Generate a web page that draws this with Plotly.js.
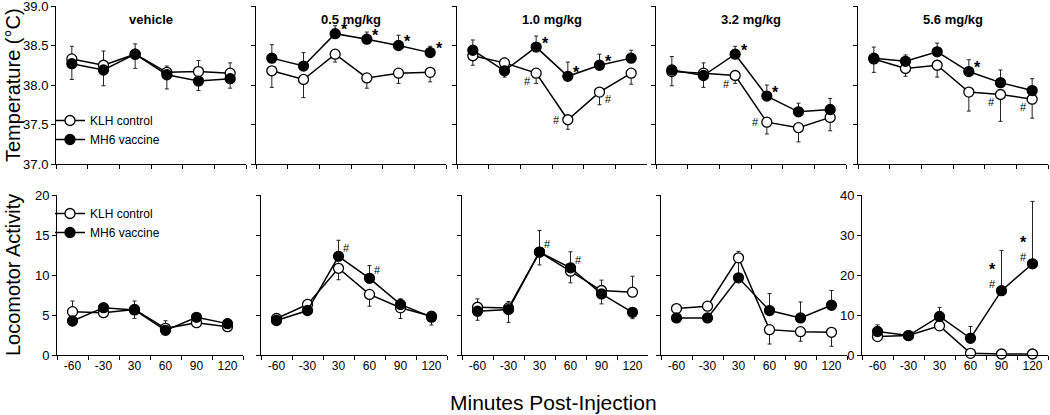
<!DOCTYPE html>
<html>
<head>
<meta charset="utf-8">
<script src="https://cdn.plot.ly/plotly-3.0.1.min.js"></script>
<style>
  html, body { margin: 0; padding: 0; background: #fff; }
  #chart { width: 1050px; height: 415px; }
</style>
</head>
<body>
<div id="chart"></div>
<script>
// time points and dose panels
const minutes = ['-60', '-30', '30', '60', '90', '120'];
const doses = ['vehicle', '0.5 mg/kg', '1.0 mg/kg', '3.2 mg/kg', '5.6 mg/kg'];

// body temperature (°C), one row per dose
const tempKlh = [
  [38.33, 38.25, 38.39, 38.16, 38.17, 38.15],
  [38.18, 38.07, 38.39, 38.09, 38.15, 38.16],
  [38.37, 38.28, 38.15, 37.56, 37.91, 38.15],
  [38.17, 38.15, 38.12, 37.53, 37.46, 37.59],
  [38.33, 38.21, 38.25, 37.91, 37.88, 37.82]
];
const tempMh6 = [
  [38.27, 38.19, 38.39, 38.13, 38.05, 38.08],
  [38.34, 38.24, 38.65, 38.58, 38.50, 38.41],
  [38.44, 38.18, 38.48, 38.11, 38.25, 38.34],
  [38.19, 38.12, 38.39, 37.86, 37.66, 37.69],
  [38.34, 38.30, 38.42, 38.17, 38.03, 37.93]
];
// SEM, sign = direction the bar is drawn (+ up, - down)
const tempKlhErr = [
  [0.16, 0.18, 0.13, 0.08, 0.14, 0.13],
  [-0.21, -0.23, -0.10, -0.13, -0.13, -0.12],
  [-0.12, 0.06, -0.13, -0.12, -0.16, -0.14],
  [-0.18, 0.13, -0.10, -0.15, -0.18, -0.17],
  [-0.17, -0.10, -0.15, -0.24, -0.34, -0.24]
];
const tempMh6Err = [
  [-0.20, -0.20, -0.18, -0.18, -0.12, -0.12],
  [0.17, 0.17, 0.10, 0.09, 0.13, 0.08],
  [0.13, -0.08, 0.14, 0.18, 0.14, 0.10],
  [0.17, -0.15, 0.10, 0.14, 0.11, 0.14],
  [0.14, 0.08, 0.11, 0.15, 0.16, 0.15]
];

// locomotor activity
const locoKlh = [
  [5.42, 5.29, 5.70, 3.33, 4.04, 3.54],
  [4.56, 6.32, 10.84, 7.57, 5.90, 4.85],
  [5.97, 5.89, 12.86, 10.48, 8.06, 7.85],
  [5.80, 6.10, 12.15, 3.17, 2.92, 2.84],
  [4.61, 4.86, 7.29, 0.42, 0.25, 0.25]
];
const locoMh6 = [
  [4.25, 5.92, 5.63, 3.08, 4.71, 3.92],
  [4.31, 5.56, 12.34, 9.58, 6.32, 4.73],
  [5.47, 5.68, 12.86, 10.90, 7.64, 5.34],
  [4.63, 4.63, 9.65, 5.55, 4.63, 6.22],
  [5.87, 4.86, 9.64, 4.19, 16.09, 22.80]
];
const locoKlhErr = [
  [1.33, 0.40, 1.05, 0.95, 0.30, -0.30],
  [0.30, 0.30, -1.43, -1.47, -1.34, -1.10],
  [1.04, 0.80, -1.60, -1.46, 1.30, 2.00],
  [0.40, 0.40, 0.80, -1.80, -1.20, -1.75],
  [-0.60, -0.30, -0.60, 0, 0, 0]
];
const locoMh6Err = [
  [-0.50, -0.40, -1.05, 0.30, 0.30, 0.60],
  [-0.50, -0.40, 2.00, 1.60, 0.70, -0.30],
  [-1.13, -1.60, 2.70, 2.00, -1.25, -0.80],
  [-0.30, -0.30, 1.90, 2.13, 2.00, 1.84],
  [1.67, 0.40, 2.26, 2.93, 10.06, 15.60]
];

// significance marks: indices of time points
const tempStar = [[], [2, 3, 4, 5], [2, 3, 4], [2, 3], [3]];  // on MH6
const tempHash = [[], [], [2, 3, 4], [2, 3], [4, 5]];         // on KLH
const locoStar = [[], [], [], [], [4, 5]];                    // on MH6
const locoHash = [[], [2, 3], [2, 3], [], [4, 5]];            // on MH6

const W = 1050, H = 415;
const FONT = 'Liberation Sans, Arial, sans-serif';

const topX = [56, 256, 457, 656, 858], topW = 190;
const botX = [57, 261, 462, 661, 862], botW = 186;
const topY = [1 - 164 / H, 1 - 6 / H];
const botY = [1 - 355 / H, 1 - 195 / H];

function errBars(signed) {
  return {
    type: 'data', symmetric: false,
    array: signed.map(v => v > 0 ? v : 0),
    arrayminus: signed.map(v => v < 0 ? -v : 0),
    color: '#222', thickness: 1, width: 2
  };
}

function series(n, y, err, name, filled, legend, show) {
  return {
    x: minutes, y: y,
    xaxis: 'x' + n, yaxis: 'y' + n,
    type: 'scatter', mode: 'lines+markers',
    name: name, legend: legend, showlegend: show,
    cliponaxis: false,
    line: { color: '#000', width: 1.5 },
    marker: { symbol: 'circle', size: 10, color: filled ? '#000' : '#fff', line: { color: '#000', width: 1.3 } },
    error_y: errBars(err)
  };
}

const traces = [];
const legendStyle = { xanchor: 'left', yanchor: 'top', bgcolor: 'rgba(0,0,0,0)', font: { size: 12 }, itemwidth: 30 };
const layout = {
  width: W, height: H,
  margin: { l: 0, r: 0, t: 0, b: 0 },
  paper_bgcolor: '#fff', plot_bgcolor: '#fff',
  font: { family: FONT, color: '#000', size: 12 },
  legend: Object.assign({ x: 50 / W, y: 1 - 106 / H }, legendStyle),
  legend2: Object.assign({ x: 50 / W, y: 1 - 199 / H }, legendStyle),
  annotations: []
};

function axes(n, x0, w, yDom, range, dtick, showX, showY, fmt) {
  layout['xaxis' + n] = {
    domain: [x0 / W, (x0 + w) / W], anchor: 'y' + n,
    type: 'category', categoryorder: 'array', categoryarray: minutes,
    range: [-0.5, 5.5], tickson: 'boundaries',
    ticks: 'outside', ticklen: 4, tickcolor: '#000', tickangle: 0,
    showline: true, linecolor: '#000', linewidth: 1,
    showgrid: false, zeroline: false,
    showticklabels: showX, tickfont: { size: 12 }
  };
  layout['yaxis' + n] = {
    domain: yDom, anchor: 'x' + n,
    range: range, tick0: range[0], dtick: dtick, tickformat: fmt,
    ticks: 'outside', ticklen: 4, tickcolor: '#000',
    showline: true, linecolor: '#000', linewidth: 1,
    showgrid: false, zeroline: false, ticklabeloverflow: 'allow',
    showticklabels: showY, tickfont: { size: 13 }
  };
}

function mark(n, idx, y, text, dx, dy, size) {
  layout.annotations.push({
    xref: 'x' + n, yref: 'y' + n, x: idx, y: y,
    text: text, showarrow: false, xshift: dx, yshift: dy,
    font: { family: FONT, size: size, color: '#000' }
  });
}

function hashShift(row, p, k) {
  if (row === 'top') {
    if (p === 2 && k === 4) return [9, -7];
    if (k === 3) return [-11, 0];
    return [-9, -8];
  }
  return p === 4 ? [-9, 7] : [8, 8];
}

for (let p = 0; p < 5; p++) {
  const nt = p + 1, nb = p + 6;

  traces.push(series(nt, tempKlh[p], tempKlhErr[p], 'KLH control', false, 'legend', p === 0));
  traces.push(series(nt, tempMh6[p], tempMh6Err[p], 'MH6 vaccine', true, 'legend', p === 0));
  traces.push(series(nb, locoKlh[p], locoKlhErr[p], 'KLH control', false, 'legend2', p === 0));
  traces.push(series(nb, locoMh6[p], locoMh6Err[p], 'MH6 vaccine', true, 'legend2', p === 0));

  axes(nt, topX[p], topW, topY, [37, 39], 0.5, false, p === 0, '.1f');
  if (p === 4) axes(nb, botX[p], botW, botY, [0, 40], 10, true, true, '');
  else axes(nb, botX[p], botW, botY, [0, 20], 5, true, p === 0, '');

  layout.annotations.push({
    xref: 'x' + nt + ' domain', yref: 'paper', x: 0.5, y: 1 - 10 / H,
    text: '<b>' + doses[p] + '</b>', showarrow: false,
    font: { family: FONT, size: 13, color: '#000' }
  });

  tempStar[p].forEach(k => mark(nt, k, tempMh6[p][k], '<b>*</b>', 9, 4, 16));
  tempHash[p].forEach(k => {
    const s = hashShift('top', p, k);
    mark(nt, k, tempKlh[p][k], '#', s[0], s[1], 11);
  });
  locoStar[p].forEach(k => mark(nb, k, locoMh6[p][k], '<b>*</b>', -9, 21, 16));
  locoHash[p].forEach(k => {
    const s = hashShift('bot', p, k);
    mark(nb, k, locoMh6[p][k], '#', s[0], s[1], 11);
  });
}

layout.annotations.push(
  { xref: 'paper', yref: 'paper', x: 13 / W, y: 1 - 85 / H, xanchor: 'center', yanchor: 'middle', text: 'Temperature (°C)', textangle: -90, showarrow: false, font: { size: 20 } },
  { xref: 'paper', yref: 'paper', x: 13 / W, y: 1 - 275 / H, xanchor: 'center', yanchor: 'middle', text: 'Locomotor Activity', textangle: -90, showarrow: false, font: { size: 20 } },
  { xref: 'paper', yref: 'paper', x: 553 / W, y: 1 - 402 / H, xanchor: 'center', yanchor: 'middle', text: 'Minutes Post-Injection', showarrow: false, font: { size: 21 } }
);

Plotly.newPlot('chart', traces, layout, { displayModeBar: false, staticPlot: true });
</script>
</body>
</html>
